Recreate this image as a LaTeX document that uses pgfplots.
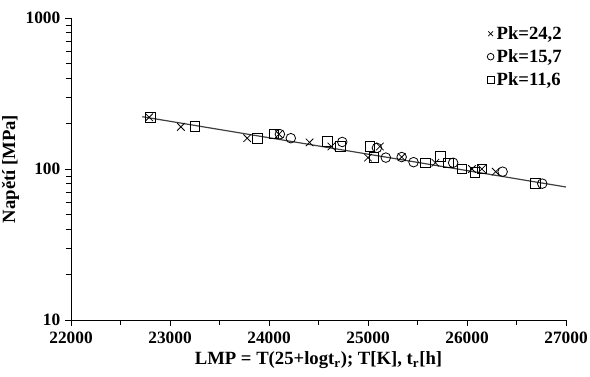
\documentclass[border=0pt]{standalone}
\usepackage{pgfplots}
\pgfplotsset{compat=1.18}
\usepackage{fontspec}
\setmainfont{Liberation Serif}
\usetikzlibrary{calc}
\begin{document}
\begin{tikzpicture}[x=0.75pt,y=0.75pt]
\begin{axis}[
  scale only axis,
  width=371.25pt, height=226.5pt,
  xmin=22000, xmax=27000,
  ymode=log, ymin=10, ymax=1000,
  axis lines=left,
  axis line style={-, black, line width=0.6pt},
  xtick={22000,23000,...,27000},
  minor xtick={22500,23500,...,26500},
  scaled x ticks=false,
  ytick={10,100,1000},
  yticklabels={10,100,1000},
  minor ytick={20,30,40,50,60,70,80,90,200,300,400,500,600,700,800,900},
  tick align=outside,
  major tick length=4.5pt,
  minor tick length=3.5pt,
  tick style={black, line width=0.5pt},
  /pgf/number format/assume math mode=true,
  /pgf/number format/set thousands separator={},
  ticklabel style={font=\fontsize{13}{15}\selectfont\bfseries},
  xticklabel style={yshift=-1pt},
  xlabel={LMP = T(25+logt\textsubscript{r}); T[K], t\textsubscript{r}[h]},
  ylabel={Napětí [MPa]},
  label style={font=\fontsize{14}{16}\selectfont\bfseries},
  xlabel style={yshift=1pt},
  ylabel style={yshift=-2pt},
  legend style={draw=none, fill=none, at={(1,1)}, anchor=north east, yshift=-2pt, xshift=2pt,
    font=\fontsize{14}{16}\selectfont\bfseries, row sep=2pt,
    legend cell align=left},
  legend image code/.code={\draw[mark repeat=2,mark phase=2,#1,mark size=2.5pt] plot coordinates {(0cm,0cm) (0.1cm,0cm) (0.2cm,0cm)};},
]
\addplot[forget plot, gray!50!black, line width=0.9pt] coordinates {(22720,222) (27000,76)};
\addplot[only marks, mark=x, mark size=4pt, black, line width=0.6pt] coordinates {
(22790,220) (23110,190) (23780,160) (24100,170) (24410,150) (24630,141)
(25000,119) (25120,141) (25340,120) (25680,110) (26050,100) (26150,100) (26290,96)};
\addlegendentry{Pk=24,2}
\addplot[only marks, mark=o, mark size=3.6pt, black, line width=0.6pt] coordinates {
(24110,170) (24220,160) (24740,151) (25090,138) (25180,119) (25340,120) (25460,111)
(25860,110) (26360,96) (26760,80)};
\addlegendentry{Pk=15,7}
\addplot[only marks, mark=square, mark size=3.6pt, black, line width=0.6pt] coordinates {
(22800,220) (23250,191) (23880,160) (24050,171) (24590,152) (24720,141) (25020,141)
(25060,119) (25580,110) (25730,121) (25810,110) (25950,100) (26080,95) (26150,100) (26690,80)};
\addlegendentry{Pk=11,6}
\end{axis}
\pgfresetboundingbox
\path[use as bounding box] ($(current axis.south west)+(-71,-56)$) rectangle ($(current axis.north east)+(24,18)$);
\end{tikzpicture}
\end{document}
